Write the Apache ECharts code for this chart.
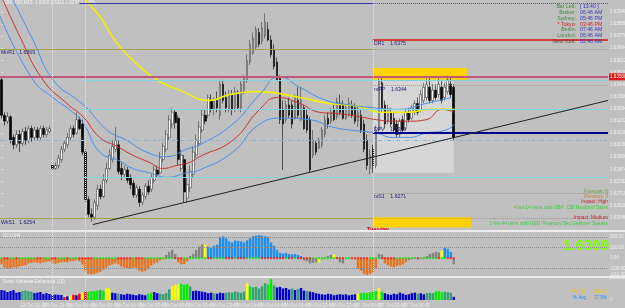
<!DOCTYPE html>
<html><head><meta charset="utf-8">
<script src="https://cdn.jsdelivr.net/npm/echarts@6/dist/echarts.min.js"></script>
<style>html,body{margin:0;padding:0;background:#c0c0c0}#c{width:625px;height:308px}</style>
</head><body><div id="c"></div>
<script>
// ---------- DATA ----------
// candles: [open, close, low, high]  (GBPUSD M15)
const candles = [
[1.6348,1.6324,1.6322,1.6350],[1.6324,1.6320,1.6317,1.6326],[1.6320,1.6323,1.6318,1.6326],[1.6323,1.6307,1.6305,1.6324],
[1.6309,1.6304,1.6301,1.6311],[1.6304,1.6311,1.6302,1.6314],[1.6311,1.6305,1.6299,1.6314],[1.6305,1.6313,1.6303,1.6315],
[1.6313,1.6307,1.6304,1.6316],[1.6307,1.6315,1.6305,1.6317],[1.6315,1.6309,1.6306,1.6317],[1.6309,1.6314,1.6307,1.6316],
[1.6314,1.6309,1.6307,1.6316],[1.6309,1.6315,1.6307,1.6317],[1.6315,1.6311,1.6309,1.6317],[1.6311,1.6314,1.6309,1.6316],
[1.6313,1.6315,1.6312,1.6317],[1.6290,1.6288,1.6287,1.6291],[1.6288,1.6290,1.6287,1.6292],[1.6290,1.6295,1.6288,1.6297],
[1.6294,1.6301,1.6292,1.6303],[1.6301,1.6305,1.6299,1.6307],[1.6304,1.6309,1.6302,1.6312],[1.6309,1.6315,1.6307,1.6317],
[1.6315,1.6311,1.6309,1.6317],[1.6312,1.6321,1.6311,1.6326],[1.6321,1.6315,1.6314,1.6323],[1.6318,1.6299,1.6297,1.6321],
[1.6299,1.6267,1.6265,1.6301],[1.6267,1.6257,1.6255,1.6269],[1.6257,1.6255,1.6252,1.6261],[1.6255,1.6265,1.6253,1.6267],
[1.6263,1.6274,1.6260,1.6277],[1.6274,1.6269,1.6267,1.6277],[1.6269,1.6280,1.6268,1.6284],[1.6280,1.6288,1.6278,1.6292],
[1.6288,1.6297,1.6287,1.6301],[1.6294,1.6303,1.6292,1.6307],[1.6301,1.6307,1.6299,1.6316],[1.6304,1.6286,1.6284,1.6307],
[1.6288,1.6284,1.6280,1.6292],[1.6284,1.6287,1.6282,1.6290],[1.6287,1.6280,1.6278,1.6289],[1.6282,1.6277,1.6274,1.6284],
[1.6278,1.6270,1.6268,1.6280],[1.6270,1.6275,1.6268,1.6277],[1.6274,1.6265,1.6262,1.6276],[1.6265,1.6270,1.6263,1.6272],
[1.6269,1.6276,1.6267,1.6278],[1.6276,1.6272,1.6270,1.6280],[1.6274,1.6282,1.6272,1.6284],[1.6280,1.6287,1.6278,1.6290],
[1.6287,1.6284,1.6282,1.6290],[1.6285,1.6295,1.6284,1.6299],[1.6294,1.6303,1.6292,1.6305],[1.6301,1.6311,1.6299,1.6314],
[1.6309,1.6321,1.6307,1.6324],[1.6318,1.6326,1.6315,1.6329],[1.6326,1.6319,1.6315,1.6328],[1.6322,1.6294,1.6290,1.6324],
[1.6288,1.6297,1.6286,1.6301],[1.6294,1.6272,1.6265,1.6297],[1.6268,1.6277,1.6265,1.6282],[1.6275,1.6286,1.6272,1.6290],
[1.6284,1.6299,1.6282,1.6303],[1.6297,1.6307,1.6295,1.6311],[1.6305,1.6316,1.6303,1.6320],[1.6314,1.6324,1.6312,1.6328],
[1.6324,1.6320,1.6318,1.6328],[1.6324,1.6336,1.6322,1.6338],[1.6334,1.6328,1.6326,1.6338],[1.6328,1.6334,1.6324,1.6336],
[1.6334,1.6329,1.6326,1.6340],[1.6324,1.6345,1.6321,1.6347],[1.6345,1.6334,1.6332,1.6348],[1.6336,1.6329,1.6326,1.6340],
[1.6328,1.6338,1.6326,1.6341],[1.6338,1.6328,1.6324,1.6341],[1.6329,1.6340,1.6326,1.6343],[1.6338,1.6329,1.6328,1.6341],
[1.6329,1.6345,1.6326,1.6347],[1.6341,1.6349,1.6338,1.6351],[1.6348,1.6361,1.6346,1.6365],[1.6360,1.6372,1.6358,1.6375],
[1.6366,1.6376,1.6365,1.6380],[1.6370,1.6382,1.6368,1.6384],[1.6380,1.6372,1.6370,1.6383],[1.6374,1.6383,1.6372,1.6387],
[1.6378,1.6387,1.6376,1.6393],[1.6382,1.6375,1.6374,1.6387],[1.6375,1.6365,1.6363,1.6378],[1.6368,1.6357,1.6355,1.6372],
[1.6360,1.6348,1.6347,1.6363],[1.6349,1.6321,1.6318,1.6351],[1.6328,1.6318,1.6287,1.6334],[1.6321,1.6331,1.6319,1.6334],
[1.6331,1.6324,1.6322,1.6336],[1.6331,1.6318,1.6315,1.6334],[1.6322,1.6336,1.6321,1.6338],[1.6334,1.6324,1.6322,1.6343],
[1.6321,1.6334,1.6320,1.6343],[1.6329,1.6315,1.6314,1.6331],[1.6324,1.6314,1.6312,1.6328],[1.6321,1.6287,1.6285,1.6323],
[1.6297,1.6307,1.6295,1.6314],[1.6305,1.6299,1.6297,1.6307],[1.6302,1.6307,1.6301,1.6309],[1.6304,1.6314,1.6302,1.6316],
[1.6311,1.6321,1.6309,1.6324],[1.6322,1.6318,1.6315,1.6326],[1.6320,1.6326,1.6318,1.6329],[1.6328,1.6321,1.6320,1.6331],
[1.6323,1.6333,1.6321,1.6336],[1.6332,1.6326,1.6324,1.6338],[1.6331,1.6322,1.6321,1.6334],[1.6322,1.6329,1.6321,1.6331],
[1.6324,1.6332,1.6323,1.6336],[1.6331,1.6324,1.6322,1.6334],[1.6329,1.6320,1.6318,1.6332],[1.6320,1.6326,1.6316,1.6330],
[1.6324,1.6314,1.6312,1.6328],[1.6318,1.6301,1.6299,1.6321],[1.6307,1.6290,1.6287,1.6311],[1.6288,1.6297,1.6284,1.6301],
[1.6301,1.6290,1.6285,1.6304],[1.6290,1.6314,1.6288,1.6317],[1.6314,1.6347,1.6312,1.6349],[1.6346,1.6328,1.6326,1.6349],
[1.6331,1.6318,1.6315,1.6334],[1.6320,1.6328,1.6318,1.6331],[1.6326,1.6318,1.6316,1.6329],[1.6322,1.6314,1.6312,1.6326],
[1.6318,1.6311,1.6309,1.6321],[1.6311,1.6320,1.6309,1.6322],[1.6321,1.6314,1.6312,1.6324],[1.6315,1.6326,1.6314,1.6328],
[1.6326,1.6321,1.6319,1.6329],[1.6322,1.6329,1.6321,1.6331],[1.6326,1.6332,1.6324,1.6334],[1.6332,1.6326,1.6324,1.6336],
[1.6328,1.6338,1.6326,1.6341],[1.6334,1.6343,1.6332,1.6346],[1.6336,1.6345,1.6334,1.6350],[1.6343,1.6334,1.6332,1.6350],
[1.6334,1.6341,1.6332,1.6345],[1.6341,1.6336,1.6334,1.6345],[1.6338,1.6345,1.6336,1.6349],[1.6343,1.6334,1.6332,1.6347],
[1.6336,1.6343,1.6334,1.6346],[1.6340,1.6348,1.6338,1.6351],[1.6345,1.6338,1.6336,1.6350],[1.6343,1.6309,1.6307,1.6345]
];
// moving average (red) and envelope (blue) and slow MA (yellow): [bar index, price]
const maRed = [[0.5,1.6402],[6.2,1.6377],[13.8,1.6348],[21.8,1.6332],[27.2,1.6323],[32.8,1.6309],[38.5,1.6303],[43.8,1.6297],[49.5,1.6292],[53.8,1.6288],[58.5,1.6290],[62.8,1.6292],[66.2,1.6296],[77.2,1.6307],[86.2,1.6328],[92.2,1.6336],[99.5,1.6332],[106.2,1.6326],[112.8,1.6325],[119.5,1.6323],[125.2,1.6321],[130.5,1.6320],[136.2,1.6320],[141.8,1.6321],[147.2,1.6328],[151.2,1.6326]];
const bandUp = [[3.8,1.6402],[10.5,1.6375],[17.2,1.6348],[26.2,1.6333],[28.5,1.6329],[35.2,1.6314],[41.8,1.6307],[48.5,1.6299],[55.2,1.6296],[61.8,1.6301],[66.2,1.6304],[77.2,1.6318],[86.2,1.6338],[92.8,1.6350],[99.5,1.6343],[108.5,1.6334],[116.2,1.6331],[124.5,1.6329],[132.8,1.6328],[141.8,1.6332],[146.2,1.6334],[150.2,1.6336]];
const bandDn = [[-0.5,1.6391],[10.5,1.6348],[17.2,1.6336],[23.8,1.6326],[27.2,1.6319],[32.8,1.6299],[38.5,1.6294],[43.8,1.6288],[49.5,1.6285],[55.2,1.6282],[61.8,1.6285],[66.2,1.6287],[77.2,1.6299],[86.2,1.6318],[93.8,1.6322],[102.8,1.6321],[110.5,1.6316],[116.2,1.6314],[125.2,1.6312],[130.5,1.6309],[136.2,1.6309],[141.8,1.6312],[148.5,1.6314],[151.2,1.6318]];
const maYellow = [[27.8,1.6402],[32.8,1.6391],[37.8,1.6375],[44.5,1.6360],[51.8,1.6348],[59.5,1.6341],[69.5,1.6334],[76.2,1.6338],[86.2,1.6340],[99.5,1.6336],[109.5,1.6332],[119.5,1.6330],[126.2,1.6326],[136.2,1.6326],[142.8,1.6328],[151.2,1.6328]];
const trendLine = [[30.5,1.6250],[202.5,1.6334]];
// pivot levels
const pivots = {WPV:1.6400, MnR1:1.6369, DR1:1.6375, mPP:1.6344, DPV:1.6312, mS1:1.6271, WkS1:1.6254};
const hLines = {pink:1.6350, cyan1:1.6348, cyan2:1.6328, cyanDash:1.6307, cyan3:1.6282};
const dayRange = [1.6349, 1.6285];
const zoneHigh = [1.6348, 1.6356];
const zoneLow = [1.6248, 1.6255];
// CCI histogram
const cci = [-60,-90,-100,-95,-85,-90,-80,-75,-70,
-50,-45,-40,-45,-50,-40,-35,-30,
-50,-55,-45,-40,-35,-40,-30,-25,-20,-30,
-60,-120,-150,-155,-150,-140,-130,
-110,-90,-70,-60,-50,-60,-80,-90,-95,-100,-90,-95,
-120,-130,-120,-100,
-70,-50,-40,-20,-10,
30,60,80,40,
-40,-60,-55,-30,
20,40,80,110,130,
130,
110,100,120,130,
200,210,190,
160,150,170,165,160,150,
170,190,
210,215,220,215,210,205,
150,120,
80,50,45,50,
40,35,40,30,20,
-20,-30,-50,-45,-40,
-40,
-10,10,
20,30,35,
10,
-40,-50,
-5,5,-5,-10,
-100,
-120,-150,-160,-150,-140,-100,
40,35,
-50,-70,-80,-85,-75,-70,-60,-40,
-20,-10,5,-10,-5,10,20,
40,50,60,55,
70,
100,90,60,
-60];
const cciState = 'o'.repeat(55)+'gggg'+'oooo'+'ggggg'+'y'+'b'.repeat(32)+'ggggg'+'y'+'gggg'+'y'+'ggggggg'+'ooooooo'+'gg'+'oooooooo'+'ggggggg'+'gggg'+'y'+'bbb'+'g';
// volumes
const vol = [950,900,760,850,950,700,760,850,900,
850,800,660,700,760,570,660,
570,480,520,500,470,
300,350,400,500,450,600,700,750,800,850,
850,900,950,900,
1150,1100,
700,650,600,550,500,600,550,500,450,550,
500,450,600,700,750,650,
600,550,650,
1000,1300,1450,1500,1550,1450,1500,1300,
850,900,850,800,750,
650,700,650,600,700,650,700,
750,700,800,750,700,800,
1600,1300,
1200,1250,1100,1300,1600,
1500,2000,1400,
1200,1250,1100,1150,1000,
1100,950,1050,1150,900,850,800,750,
650,600,550,500,600,550,450,500,550,
500,550,450,500,550,
600,650,700,650,
750,800,850,
1150,
800,
650,550,500,600,550,700,600,500,550,
650,700,600,650,550,
650,700,650,
800,850,750,
800,750,700,
300];
const volState = 'bbbbbbb'+'tttt'+'bbbbbbbbbb'+'rbyrbryrgg'+'ggtg'+'yy'+'bbtbbbbbbb'+'bbggbb'+'ttt'+'tyyygggt'+'bbbbb'+'bbtbbbt'+'tttttt'+'yg'+'ttttt'+'ggt'+'bbbbb'+'tbtbbtbb'+'bbbbbbbbb'+'bbbbb'+'yggg'+'ggg'+'y'+'g'+'bbbbbbbbb'+'bbtbb'+'ttt'+'ggg'+'ttt'+'b';
// axis ticks
const priceTicks = [1.63940,1.63858,1.63776,1.63694,1.63612,1.63530,1.63448,1.63366,1.63284,1.63202,1.63120,1.63038,1.62956,1.62874,1.62792,1.62710,1.62628,1.62546];
const cciTicks = [208.81,100,0,-100,-161.2];
const cciLevels = [200,100,-100];
const volTicks = [0,2091.29];
const timeTickIdx = [7,15,23,31,39,47,55,63,71,79,87,95,103,111,119,127,135,143,151];
const daySeps = [17,28,124];

// ---------- BUILD ----------
const N = 203;
function pad(n){return (n<10?'0':'')+n;}
function barTime(i){
  let d,m;
  if(i<17){d='23 Oct';m=17*60+45+15*i;}
  else if(i<28){d='25 Oct';m=21*60+15+15*(i-17);}
  else if(i<124){d='26 Oct';m=15*(i-28);}
  else {d='27 Oct';m=15*(i-124);}
  return d+' '+pad(Math.floor(m/60)%24)+':'+pad(m%60);
}
const cats=[];for(let i=0;i<N;i++)cats.push(barTime(i));
const tickText={};timeTickIdx.forEach((k,j)=>{tickText[k]= j===0?'23 Oct 2009':cats[k];});
const cciCol={o:'#e8731e',b:'#1c8ff0',g:'#858585',y:'#ffff00'};
const volCol={b:'#0000d0',t:'#33a070',g:'#00f000',y:'#ffff00',r:'#ff0000'};
const FONT='Liberation Sans';
const last=candles[candles.length-1][1];
const FS=4.6;

const olive='#a4a24a', cyan='#7fd4e0', navyTxt='#1c1c78';
function seg(x0,x1,p,style,label){
  const a={coord:[x0,p],lineStyle:style};
  if(label){a.label={show:true,formatter:label.text,position:label.pos||'insideStartBottom',color:label.color||navyTxt,fontSize:5.2,fontFamily:FONT,distance:1};}
  else a.label={show:false};
  return [a,{coord:[x1,p]}];
}
const E=202.5;
const mlData=[
  seg(-0.5,27.8,pivots.WPV,{opacity:0},{text:'WPV   '+pivots.WPV.toFixed(4)}),
  seg(26,124,pivots.WPV,{color:'#3434b0',width:1,type:'solid'}),
  seg(124,E,pivots.WPV,{color:'#5050b8',width:1,type:'dotted'}),
  seg(-0.5,124,pivots.MnR1,{color:olive,width:1,type:'solid'},{text:'MnR1   '+pivots.MnR1.toFixed(4)}),
  seg(124,E,pivots.MnR1,{color:olive,width:1,type:'dotted'}),
  seg(124,E,pivots.DR1,{color:'#d23c3c',width:2,type:'solid'},{text:'DR1    '+pivots.DR1.toFixed(4)}),
  [{coord:[-0.5,hLines.pink],lineStyle:{color:'#c0587a',width:2,type:'solid'},
    label:{show:true,position:'end',formatter:hLines.pink.toFixed(5),color:'#ffffff',backgroundColor:'#e01818',fontSize:FS,padding:[1,1],distance:1,fontFamily:FONT}},{coord:[E,hLines.pink]}],
  seg(27,E,hLines.cyan1,{color:cyan,width:1,type:'solid'}),
  seg(124,E,pivots.mPP,{color:olive,width:1,type:'dotted'},{text:'mPP    '+pivots.mPP.toFixed(4)}),
  seg(27,E,hLines.cyan2,{color:cyan,width:1,type:'solid'}),
  seg(124,E,pivots.DPV,{color:'#000090',width:2,type:'solid'},{text:'DPV    '+pivots.DPV.toFixed(4),pos:'insideStartTop'}),
  seg(-0.5,E,hLines.cyanDash,{color:'#7cb8dc',width:1,type:[4,2,1,2]}),
  seg(27,E,hLines.cyan3,{color:cyan,width:1,type:'solid'}),
  seg(124,E,pivots.mS1,{color:olive,width:1,type:'dotted'},{text:'mS1    '+pivots.mS1.toFixed(4)}),
  seg(-0.5,124,pivots.WkS1,{color:olive,width:1,type:'solid'},{text:'WkS1   '+pivots.WkS1.toFixed(4)}),
  seg(124,E,pivots.WkS1,{color:olive,width:1,type:'dotted'})
];
const vsep = daySeps.map(d=>({xAxis:d}));
const vsepStyle={color:'#e4e4e4',width:1,type:'dotted'};
const G={left:0,right:17,show:false,outerBoundsMode:'none',containLabel:false};
const axLbl={fontSize:FS,color:'#f0f0f0',margin:2,fontFamily:FONT};

const option={
  animation:false,
  backgroundColor:'#c0c0c0',
  textStyle:{fontFamily:FONT},
  grid:[
    Object.assign({top:0,height:229},G),
    Object.assign({top:232,height:45},G),
    Object.assign({top:278,height:22},G)
  ],
  xAxis:[
    {type:'category',gridIndex:0,data:cats,boundaryGap:true,axisLine:{show:false},axisTick:{show:false},axisLabel:{show:false}},
    {type:'category',gridIndex:1,data:cats,boundaryGap:true,axisLine:{show:false},axisTick:{show:false},axisLabel:{show:false}},
    {type:'category',gridIndex:2,data:cats,boundaryGap:true,axisLine:{show:false},axisTick:{show:false},
      axisLabel:Object.assign({show:true,interval:(i)=>tickText[i]!==undefined,formatter:(v,i)=>tickText[i]||'',align:'right',hideOverlap:false},axLbl,{margin:3})},
    {type:'value',gridIndex:0,min:-0.5,max:N-0.5,show:false}
  ],
  yAxis:[
    {type:'value',gridIndex:0,position:'right',min:1.6247,max:1.6402,splitLine:{show:false},axisLine:{show:false},axisTick:{show:true,length:1.5,lineStyle:{color:'#eeeeee'},customValues:priceTicks},
      axisLabel:Object.assign({customValues:priceTicks,formatter:v=>v.toFixed(5)},axLbl)},
    {type:'value',gridIndex:1,position:'right',min:-180,max:250,splitLine:{show:false},axisLine:{show:false},axisTick:{show:false},
      axisLabel:Object.assign({customValues:cciTicks,formatter:v=>v.toFixed(2)},axLbl)},
    {type:'value',gridIndex:2,position:'right',min:0,max:2100,splitLine:{show:false},axisLine:{show:false},axisTick:{show:false},
      axisLabel:Object.assign({customValues:volTicks,formatter:v=>v.toFixed(v?2:0)},axLbl)}
  ],
  series:[
    {type:'line',xAxisIndex:3,yAxisIndex:0,data:trendLine,symbol:'none',lineStyle:{color:'#202020',width:1},z:6,
      markArea:{silent:true,data:[
        [{coord:[124,dayRange[0]],itemStyle:{color:'#d6d6d6'}},{coord:[151,dayRange[1]]}],
        [{coord:[124,zoneHigh[1]],itemStyle:{color:'#ffd200'}},{coord:[155.5,zoneHigh[0]]}],
        [{coord:[124,zoneLow[1]],itemStyle:{color:'#ffd200'}},{coord:[156.8,zoneLow[0]]}]
      ]},
      markLine:{silent:true,symbol:'none',data:mlData.concat(vsep.map(v=>Object.assign({lineStyle:vsepStyle,label:{show:false}},{xAxis:v.xAxis}))),animation:false}},
    {type:'candlestick',xAxisIndex:0,yAxisIndex:0,data:candles,barWidth:2.2,z:3,
      itemStyle:{color:'#ffffff',color0:'#000000',borderColor:'#3a3a3a',borderColor0:'#000000',borderWidth:0.6}},
    {type:'line',xAxisIndex:3,yAxisIndex:0,data:maYellow,smooth:true,symbol:'none',lineStyle:{color:'#f2f000',width:1.6},z:4},
    {type:'line',xAxisIndex:3,yAxisIndex:0,data:maRed,smooth:true,symbol:'none',lineStyle:{color:'#c83030',width:1},z:4},
    {type:'line',xAxisIndex:3,yAxisIndex:0,data:bandUp,smooth:true,symbol:'none',lineStyle:{color:'#4a8ee6',width:1},z:4},
    {type:'line',xAxisIndex:3,yAxisIndex:0,data:bandDn,smooth:true,symbol:'none',lineStyle:{color:'#4a8ee6',width:1},z:4},
    {type:'bar',xAxisIndex:1,yAxisIndex:1,data:cci.map((v,i)=>({value:v,itemStyle:{color:cciCol[cciState[i]]}})),barWidth:2.4,
      markLine:{silent:true,symbol:'none',label:{show:false},data:cciLevels.map(l=>({yAxis:l,lineStyle:{color:'#8c8c8c',type:'dotted',width:1}})).concat(vsep.map(v=>({xAxis:v.xAxis,lineStyle:vsepStyle})))}},
    {type:'scatter',xAxisIndex:1,yAxisIndex:1,data:cci.map((v,i)=>({value:0,itemStyle:{color:(i>0&&v<cci[i-1])?'#ff1010':'#10e010'}})),symbol:'rect',symbolSize:[2,2],z:5},
    {type:'bar',xAxisIndex:2,yAxisIndex:2,data:vol.map((v,i)=>({value:v,itemStyle:{color:volCol[volState[i]]}})),barWidth:2.4,
      markLine:{silent:true,symbol:'none',label:{show:false},data:vsep.map(v=>({xAxis:v.xAxis,lineStyle:vsepStyle}))}}
  ],
  graphic:[
    {type:'line',shape:{x1:0,y1:231,x2:625,y2:231},style:{stroke:'#ececec',lineWidth:2},z:10},
    {type:'line',shape:{x1:0,y1:277,x2:625,y2:277},style:{stroke:'#ececec',lineWidth:2},z:10},
    {type:'text',left:3,top:0,style:{text:'GBPUSD,M15  1.6300 1.6311 1.6297 '+last.toFixed(4),fill:'#f4f4f4',fontSize:FS,fontFamily:FONT}},
    {type:'text',left:3,top:233,style:{text:'CCI (14)',fill:'#f4f4f4',fontSize:FS,fontFamily:FONT}},
    {type:'text',left:3,top:279,style:{text:'Sonic Volumes Enhanced (15)',fill:'#f4f4f4',fontSize:FS,fontFamily:FONT}},
    {type:'text',left:3,top:295,style:{text:'CCI Hist Signal, CCI Hist Gradient',fill:'#f4f4f4',fontSize:FS,fontFamily:FONT}},
    {type:'text',x:367,y:226,style:{text:'Tuesday',fill:'#cc0000',fontSize:5.5,fontWeight:'bold',fontFamily:FONT}},
    {type:'text',x:609,y:238,style:{text:last.toFixed(4),fill:'#7cff00',fontSize:15,fontWeight:'bold',align:'right',fontFamily:FONT}},
    ...[['Bar Left:','[ 13:40 ]','#3c8a3c','#3434c0'],['Broker:','06:46 AM','#3c8a3c','#3434c0'],['Sydney:','05:46 PM','#3c8a3c','#3434c0'],
        ['* Tokyo:','03:46 PM','#d02020','#d02020'],['Berlin:','07:46 AM','#3c8a3c','#3434c0'],['London:','06:46 AM','#3c8a3c','#3434c0'],['New York:','02:46 AM','#6a3a3a','#3434c0']]
      .flatMap((r,k)=>[
        {type:'text',x:576,y:4.5+k*5.7,z:20,style:{text:r[0],fill:r[2],fontSize:5.2,align:'right',fontFamily:FONT}},
        {type:'text',x:580,y:4.5+k*5.7,z:20,style:{text:r[1],fill:r[3],fontSize:5.2,align:'left',fontFamily:FONT}}]),
    ...[['Forecast: 6','#6aa040'],['Previous: 3','#c0843c'],['Impact: High','#c02828'],['4 hrs 14 mins until GBP: CBI Realized Sales','#38d038'],
        ['',''],['Impact: Medium','#c02828'],['1 hrs 44 mins until USD: Treasury Sec Geithner Speaks','#38d038']]
      .map((r,k)=>({type:'text',x:608,y:189+k*5.3,z:20,style:{text:r[0],fill:r[1],fontSize:4.8,align:'right',fontFamily:FONT}})),
    {type:'text',x:586,y:289,style:{text:'Vol: 10',fill:'#e8c800',fontSize:FS,align:'right',fontFamily:FONT}},
    {type:'text',x:607,y:289,style:{text:'108.01',fill:'#e8c800',fontSize:FS,align:'right',fontFamily:FONT}},
    {type:'text',x:586,y:295,style:{text:'% Avg',fill:'#2a90e8',fontSize:FS,align:'right',fontFamily:FONT}},
    {type:'text',x:607,y:295,style:{text:'17.9%',fill:'#2a90e8',fontSize:FS,align:'right',fontFamily:FONT}}
  ]
};
const chart=echarts.init(document.getElementById('c'),null,{renderer:'canvas'});
chart.setOption(option);
</script></body></html>
